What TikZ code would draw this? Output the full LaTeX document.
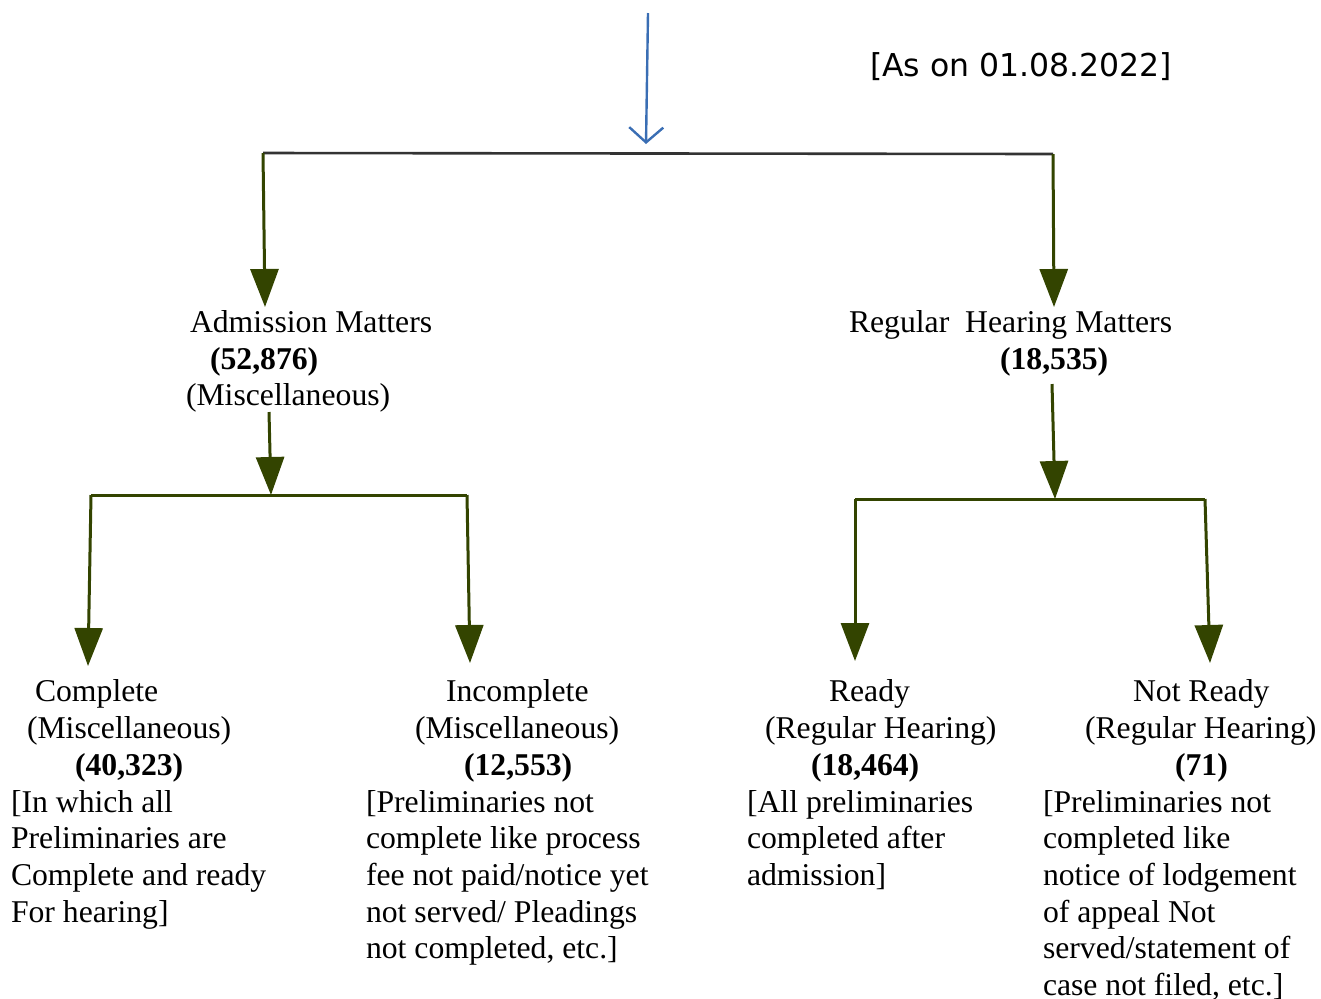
\documentclass[tikz,border=0pt]{standalone}
\usepackage{fontspec}
\setmainfont{Liberation Serif}
\newfontfamily\datefont{DejaVu Sans}
\usetikzlibrary{arrows.meta}
\definecolor{olivearrow}{RGB}{51,68,0}
\definecolor{bluearrow}{RGB}{58,110,180}
\definecolor{bargray}{RGB}{51,51,51}
\begin{document}
\begin{tikzpicture}[x=0.5pt,y=-0.5pt,
  txt/.style={anchor=base west,inner sep=0pt,outer sep=0pt,font=\fontsize{15.85}{18.5}\selectfont},
  bf/.style={txt,font=\fontsize{15.85}{18.5}\selectfont\bfseries},
  arr/.style={draw=olivearrow,line width=1.5pt,-{Triangle[width=14pt,length=19pt]},fill=olivearrow},
  bar/.style={draw=olivearrow,line width=1.5pt},
  topbar/.style={draw=bargray,line width=1.3pt}]
\useasboundingbox (0,0) rectangle (1321,998);
% date
\node[txt,font=\fontsize{15.75}{18.5}\selectfont\datefont] (date) at (870,76) {[As on 01.08.2022]};
% top blue arrow
\coordinate (tstart) at (648,13);
\coordinate (tend) at (646,144);
\draw[bluearrow,line width=1.2pt,-{Straight Barb[length=7.5pt,width=17pt,line width=1.2pt]}] (tstart) -- (tend);
% top bar
\coordinate (tl) at (263,153);
\coordinate (tr) at (1053,154);
\draw[topbar] (tl) -- (tr);
% admission
\node[txt] (adm) at (190,332) {Admission Matters};
\node[bf] (admn) at (210,369) {(52,876)};
\node[txt] (admm) at (186,405) {(Miscellaneous)};
\coordinate (admtip) at (265,307);
\draw[arr] (tl) -- (admtip);
% regular
\node[txt] (reg) at (849,332) {Regular\ \ Hearing Matters};
\node[bf] (regn) at (1000,369) {(18,535)};
\coordinate (regtip) at (1054,307);
\draw[arr] (tr) -- (regtip);
% left sub-tree
\coordinate (admfrom) at (269,412);
\coordinate (admjoin) at (271,495);
\draw[arr] (admfrom) -- (admjoin);
\coordinate (ll) at (91,495);
\coordinate (lr) at (467,495);
\draw[bar] (ll) -- (lr);
\coordinate (comptip) at (88,666);
\coordinate (inctip) at (470,663);
\draw[arr] (ll) -- (comptip);
\draw[arr] (lr) -- (inctip);
% right sub-tree
\coordinate (regfrom) at (1052,384);
\coordinate (regjoin) at (1055,499);
\draw[arr] (regfrom) -- (regjoin);
\coordinate (rl) at (855,499);
\coordinate (rr) at (1205,499);
\draw[bar] (rl) -- (rr);
\coordinate (readytip) at (855,661);
\coordinate (nrtip) at (1210,663);
\draw[arr] (rl) -- (readytip);
\draw[arr] (rr) -- (nrtip);
% Complete
\node[txt] (comp) at (35,701) {Complete};
\node[txt] (comp2) at (27,738) {(Miscellaneous)};
\node[bf] (comp3) at (75,775) {(40,323)};
\node[txt] (comp4) at (11,812) {[In which all};
\node[txt] (comp5) at (11,848) {Preliminaries are};
\node[txt] (comp6) at (11,885) {Complete and ready};
\node[txt] (comp7) at (11,922) {For hearing]};
% Incomplete
\node[txt] (inc) at (446,701) {Incomplete};
\node[txt] (inc2) at (415,738) {(Miscellaneous)};
\node[bf] (inc3) at (464,775) {(12,553)};
\node[txt] (inc4) at (366,812) {[Preliminaries not};
\node[txt] (inc5) at (366,848) {complete like process};
\node[txt] (inc6) at (366,885) {fee not paid/notice yet};
\node[txt] (inc7) at (366,922) {not served/ Pleadings};
\node[txt] (inc8) at (366,958) {not completed, etc.]};
% Ready
\node[txt] (rdy) at (829,701) {Ready};
\node[txt] (rdy2) at (765,738) {(Regular Hearing)};
\node[bf] (rdy3) at (811,775) {(18,464)};
\node[txt] (rdy4) at (747,812) {[All preliminaries};
\node[txt] (rdy5) at (747,848) {completed after};
\node[txt] (rdy6) at (747,885) {admission]};
% Not Ready
\node[txt] (nr) at (1133,701) {Not Ready};
\node[txt] (nr2) at (1085,738) {(Regular Hearing)};
\node[bf] (nr3) at (1175,775) {(71)};
\node[txt] (nr4) at (1043,812) {[Preliminaries not};
\node[txt] (nr5) at (1043,848) {completed like};
\node[txt] (nr6) at (1043,885) {notice of lodgement};
\node[txt] (nr7) at (1043,922) {of appeal Not};
\node[txt] (nr8) at (1043,958) {served/statement of};
\node[txt] (nr9) at (1043,995) {case not filed, etc.]};
\end{tikzpicture}
\end{document}
